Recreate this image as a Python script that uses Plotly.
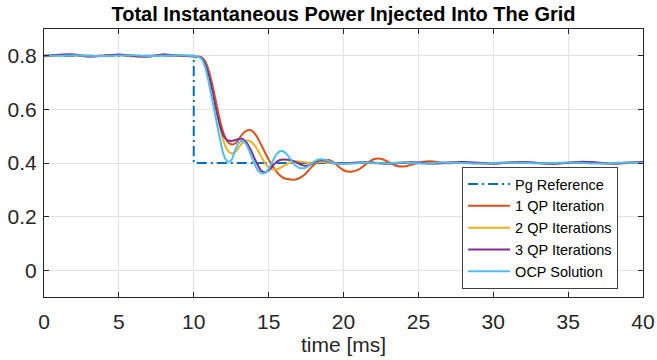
import plotly.graph_objects as go

# Sample times [ms]: coarse before the step, fine during the transient, coarse after
time_ms = [
    0, 1, 2, 3, 4, 5, 6, 7, 8, 9,
    10, 10.25, 10.5, 10.75, 11, 11.25, 11.5, 11.75, 12, 12.25, 12.5, 12.75,
    13, 13.25, 13.5, 13.75, 14, 14.25, 14.5, 14.75, 15, 15.25, 15.5, 15.75,
    16, 16.25, 16.5, 16.75, 17, 17.25, 17.5, 17.75, 18, 18.25, 18.5, 18.75,
    19, 19.25, 19.5, 19.75, 20,
    20.5, 21, 21.5, 22, 22.5, 23, 23.5, 24, 24.5, 25, 25.5, 26, 26.5, 27,
    28, 29, 30, 31, 32, 33, 34, 35, 36, 37, 38, 39, 40,
]

# Power reference (step from 0.8 to 0.4 at 10 ms)
ref_time = [0, 10, 10, 40]
ref_power = [0.8, 0.8, 0.4, 0.4]

qp1_power = [
    0.799, 0.803, 0.802, 0.798, 0.801, 0.803, 0.798, 0.799, 0.804, 0.800,
    0.799, 0.798, 0.795, 0.780, 0.745, 0.690, 0.625, 0.560, 0.510, 0.480, 0.470, 0.472,
    0.488, 0.508, 0.520, 0.523, 0.515, 0.495, 0.468, 0.440, 0.413, 0.390, 0.370, 0.354,
    0.344, 0.340, 0.338, 0.338, 0.342, 0.350, 0.362, 0.378, 0.392, 0.402, 0.408, 0.411,
    0.411, 0.406, 0.395, 0.383, 0.373,
    0.367, 0.375, 0.396, 0.414, 0.416, 0.404, 0.390, 0.387, 0.393, 0.401, 0.406, 0.406, 0.402, 0.399,
    0.402, 0.399, 0.398, 0.401, 0.403, 0.400, 0.398, 0.400, 0.403, 0.401, 0.398, 0.400, 0.402,
]

qp2_power = [
    0.800, 0.802, 0.803, 0.799, 0.800, 0.804, 0.800, 0.798, 0.803, 0.801,
    0.799, 0.798, 0.793, 0.772, 0.730, 0.670, 0.600, 0.535, 0.480, 0.448, 0.436, 0.440,
    0.458, 0.475, 0.483, 0.482, 0.470, 0.450, 0.425, 0.400, 0.383, 0.376, 0.376, 0.381,
    0.389, 0.397, 0.403, 0.406, 0.406, 0.404, 0.402, 0.401, 0.401, 0.403, 0.404, 0.403,
    0.401, 0.399, 0.398, 0.398, 0.399,
    0.401, 0.402, 0.401, 0.399, 0.398, 0.399, 0.401, 0.403, 0.402, 0.400, 0.398, 0.399, 0.401, 0.402,
    0.401, 0.399, 0.399, 0.402, 0.402, 0.399, 0.398, 0.401, 0.403, 0.400, 0.398, 0.401, 0.401,
]

qp3_power = [
    0.798, 0.804, 0.805, 0.797, 0.800, 0.805, 0.799, 0.797, 0.805, 0.801,
    0.797, 0.796, 0.793, 0.772, 0.730, 0.670, 0.600, 0.540, 0.500, 0.485, 0.482, 0.485,
    0.490, 0.490, 0.478, 0.455, 0.425, 0.395, 0.372, 0.365, 0.372, 0.388, 0.403, 0.411,
    0.413, 0.412, 0.410, 0.405, 0.398, 0.392, 0.390, 0.393, 0.400, 0.407, 0.410, 0.409,
    0.405, 0.401, 0.399, 0.398, 0.399,
    0.400, 0.402, 0.403, 0.402, 0.399, 0.397, 0.398, 0.401, 0.403, 0.402, 0.399, 0.398, 0.399, 0.402,
    0.404, 0.401, 0.398, 0.402, 0.404, 0.400, 0.397, 0.401, 0.405, 0.401, 0.398, 0.402, 0.404,
]

ocp_power = [
    0.801, 0.800, 0.802, 0.800, 0.799, 0.801, 0.802, 0.799, 0.800, 0.802,
    0.799, 0.797, 0.790, 0.760, 0.700, 0.630, 0.560, 0.490, 0.430, 0.405, 0.410, 0.445,
    0.475, 0.483, 0.470, 0.440, 0.405, 0.375, 0.362, 0.362, 0.378, 0.405, 0.430, 0.444,
    0.443, 0.430, 0.410, 0.393, 0.383, 0.380, 0.383, 0.392, 0.403, 0.411, 0.414, 0.412,
    0.407, 0.402, 0.398, 0.396, 0.397,
    0.398, 0.400, 0.402, 0.401, 0.399, 0.398, 0.400, 0.402, 0.401, 0.399, 0.398, 0.400, 0.402, 0.401,
    0.400, 0.398, 0.400, 0.402, 0.401, 0.399, 0.400, 0.402, 0.400, 0.398, 0.400, 0.402, 0.400,
]

x_ticks = [0, 5, 10, 15, 20, 25, 30, 35, 40]
y_ticks = [0, 0.2, 0.4, 0.6, 0.8]

FONT = "Liberation Sans"
AXIS_COLOR = "#262626"
GRID_COLOR = "#e3e3e3"

fig = go.Figure()

fig.add_trace(go.Scatter(
    x=ref_time, y=ref_power, mode="lines", name="Pg Reference",
    line=dict(color="#0072BD", width=2, dash="10px,4px,2px,4px"),
))

series = [
    ("1 QP Iteration", qp1_power, "#D95319"),
    ("2 QP Iterations", qp2_power, "#EDB120"),
    ("3 QP Iterations", qp3_power, "#7E2F8E"),
    ("OCP Solution", ocp_power, "#4DBEEE"),
]
for name, values, color in series:
    fig.add_trace(go.Scatter(
        x=time_ms, y=values, mode="lines", name=name,
        line=dict(color=color, width=2, shape="spline", smoothing=0.8),
    ))

axis_common = dict(
    showline=True, linecolor=AXIS_COLOR, linewidth=1, mirror="ticks",
    ticks="inside", ticklen=5, tickcolor=AXIS_COLOR,
    showgrid=True, gridcolor=GRID_COLOR, gridwidth=1, zeroline=False,
    tickfont=dict(family=FONT, size=21, color=AXIS_COLOR),
    automargin=False,
)

fig.update_layout(
    width=657, height=360,
    margin=dict(l=44, r=14, t=29, b=63),
    paper_bgcolor="white", plot_bgcolor="white",
    title=dict(
        text="<b>Total Instantaneous Power Injected Into The Grid</b>",
        x=0.5, xref="paper", y=0.962, yref="container",
        xanchor="center", yanchor="middle",
        font=dict(family=FONT, size=20, color="black"),
    ),
    xaxis=dict(
        range=[0, 40], tickvals=x_ticks, ticklabelstandoff=6,
        title=dict(text="time [ms]", standoff=4,
                   font=dict(family=FONT, size=21, color=AXIS_COLOR)),
        **axis_common,
    ),
    yaxis=dict(
        range=[-0.1, 0.9], tickvals=y_ticks, ticklabelstandoff=2,
        **axis_common,
    ),
    legend=dict(
        x=0.698, y=0.485, xanchor="left", yanchor="top",
        bgcolor="white", bordercolor="#404040", borderwidth=1,
        font=dict(family=FONT, size=14.5, color="black"),
        tracegroupgap=0, itemwidth=42,
    ),
    showlegend=True,
)

fig.write_html("out.html")
